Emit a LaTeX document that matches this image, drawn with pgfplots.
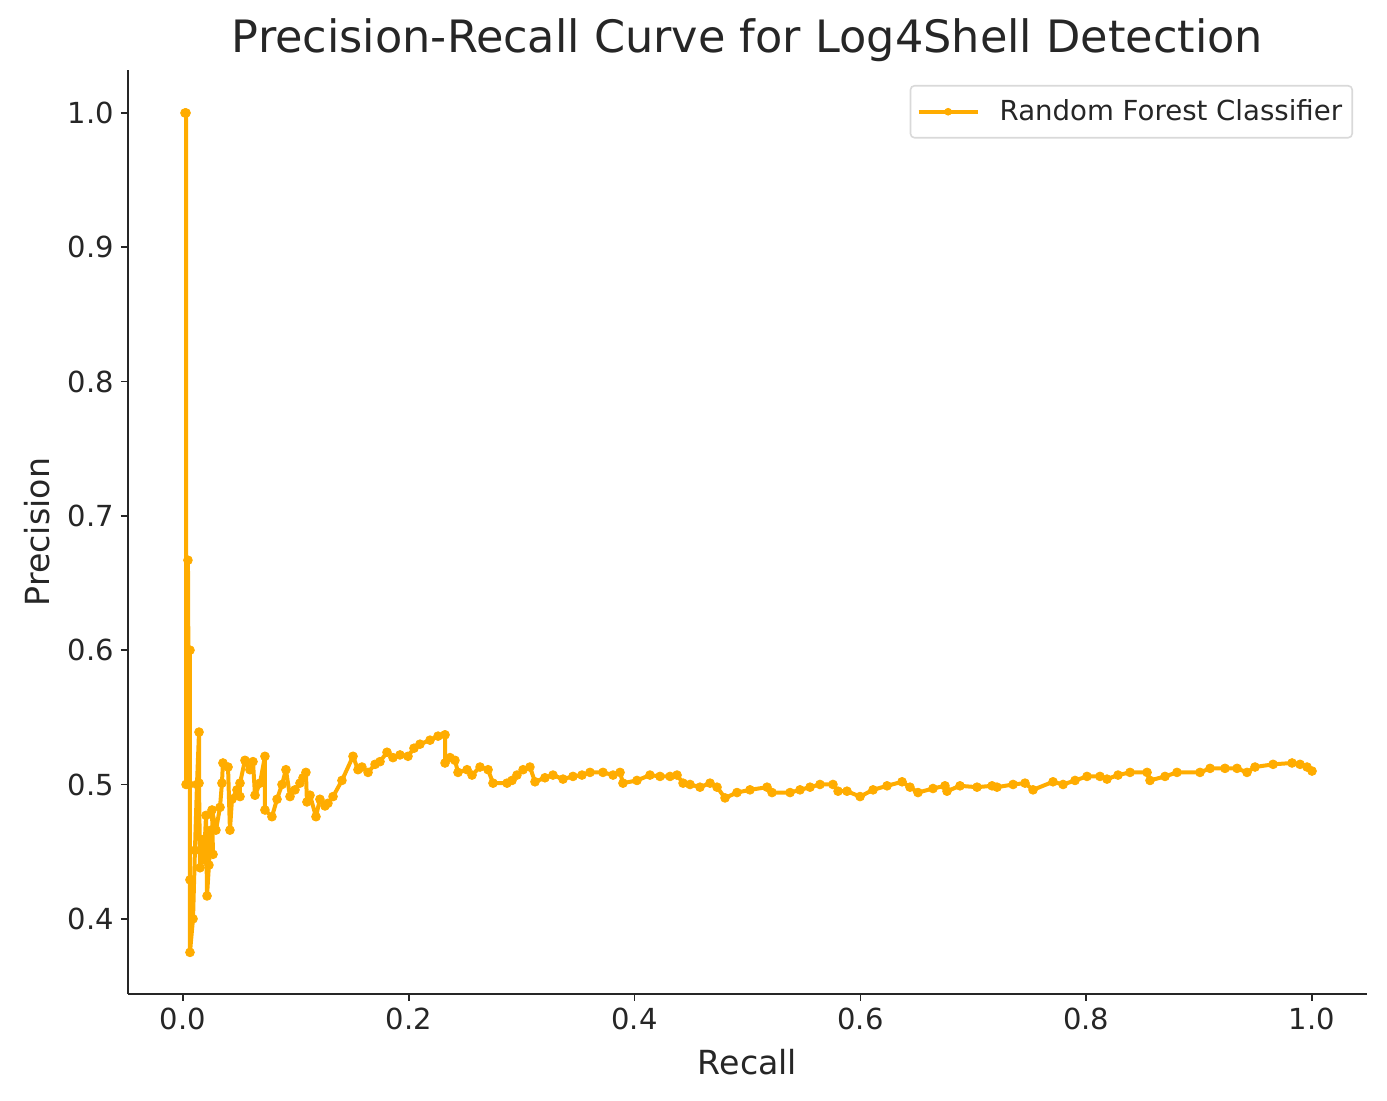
\documentclass[border=0pt]{standalone}
\usepackage{fontspec}
\setmainfont{DejaVu Sans}
\usepackage{pgfplots}
\pgfplotsset{compat=1.18}
\definecolor{curve}{RGB}{255,172,0}
\definecolor{txt}{RGB}{38,38,38}

\begin{document}
\begin{tikzpicture}
\begin{axis}[
    scale only axis,
    width=619.5pt, height=462pt,
    xmin=-0.0487, xmax=1.0487,
    ymin=0.344, ymax=1.032,
    axis lines*=left,
    axis line style={-, line width=1pt, black!85},
    tick align=outside,
    major tick length=3.5pt,
    tick style={line width=0.8pt, black!85},
    xtick={0,0.2,0.4,0.6,0.8,1.0},
    ytick={0.4,0.5,0.6,0.7,0.8,0.9,1.0},
    /pgf/number format/.cd, fixed, fixed zerofill, precision=1, assume math mode=true,
    /pgfplots/.cd,
    tick label style={font=\fontsize{14.5}{17}\selectfont, text=txt},
    label style={font=\fontsize{16.6}{19}\selectfont, text=txt},
    every axis title shift=0pt,
    title style={font=\fontsize{22.3}{26}\selectfont, text=txt,
                 at={(axis description cs:0.5,1.0325)}, anchor=center},
    title={Precision-Recall Curve for Log4Shell Detection},
    xlabel={Recall},
    ylabel={Precision},
    xlabel style={at={(axis description cs:0.5,-0.0736)}, anchor=center},
    ylabel style={at={(axis description cs:-0.0734,0.5)}, anchor=center},
    legend style={at={(axis description cs:0.9887,0.9838)}, anchor=north east,
                  draw=black!15, line width=0.8pt, rounded corners=2pt,
                  font=\fontsize{13.8}{16}\selectfont, text=txt,
                  inner xsep=3pt, inner ysep=5pt},
    legend cell align=left,
    legend image code/.code={
        \draw[mark repeat=2, mark phase=2, mark size=1.7pt]
            plot coordinates {(0cm,0cm) (0.52cm,0cm) (1.04cm,0cm)};
        \path (0cm,0cm) (1.04cm+8pt,0cm);
    },
]
\coordinate (sw) at (rel axis cs:0,0);
\coordinate (ne) at (rel axis cs:1,1);

\addplot[color=curve, line width=2pt, line join=round, mark=*, mark size=2.2pt,
         mark options={fill=curve, draw=curve, line width=0.4pt}]
coordinates {
(0.0018,1.000) (0.0027,1.000) (0.0027,0.500) (0.0044,0.667) (0.0053,0.500)
(0.0062,0.600) (0.0062,0.429) (0.0062,0.375) (0.0089,0.400) (0.0106,0.451)
(0.0124,0.500) (0.0142,0.539) (0.0142,0.501) (0.0151,0.438) (0.0168,0.459)
(0.0186,0.444) (0.0204,0.477) (0.0213,0.417) (0.0230,0.440) (0.0248,0.466)
(0.0266,0.448) (0.0257,0.481) (0.0292,0.466) (0.0328,0.483) (0.0345,0.501)
(0.0354,0.516) (0.0399,0.513) (0.0416,0.466) (0.0434,0.489) (0.0478,0.496)
(0.0505,0.491) (0.0505,0.501) (0.0549,0.518) (0.0593,0.511) (0.0620,0.517)
(0.0638,0.492) (0.0682,0.501) (0.0726,0.521) (0.0726,0.481) (0.0788,0.476)
(0.0833,0.489) (0.0877,0.500) (0.0912,0.511) (0.0948,0.491) (0.0992,0.496)
(0.1036,0.501) (0.1063,0.505) (0.1089,0.509) (0.1098,0.487) (0.1125,0.492)
(0.1178,0.476) (0.1213,0.489) (0.1258,0.484) (0.1284,0.486) (0.1329,0.491)
(0.1408,0.503) (0.1506,0.521) (0.1550,0.511) (0.1585,0.513) (0.1639,0.509)
(0.1701,0.515) (0.1745,0.517) (0.1807,0.524) (0.1860,0.520) (0.1922,0.522)
(0.1993,0.521) (0.2046,0.527) (0.2099,0.530) (0.2188,0.533) (0.2259,0.536)
(0.2321,0.537) (0.2321,0.516) (0.2365,0.520) (0.2409,0.518) (0.2436,0.509)
(0.2516,0.511) (0.2560,0.507) (0.2631,0.513) (0.2702,0.511) (0.2746,0.501)
(0.2870,0.501) (0.2914,0.503) (0.2958,0.507) (0.3012,0.511) (0.3073,0.513)
(0.3118,0.502) (0.3206,0.505) (0.3277,0.507) (0.3366,0.504) (0.3454,0.506)
(0.3534,0.507) (0.3605,0.509) (0.3720,0.509) (0.3809,0.507) (0.3871,0.509)
(0.3897,0.501) (0.4021,0.503) (0.4136,0.507) (0.4225,0.506) (0.4314,0.506)
(0.4376,0.507) (0.4429,0.501) (0.4491,0.500) (0.4579,0.498) (0.4668,0.501)
(0.4730,0.498) (0.4801,0.490) (0.4907,0.494) (0.5022,0.496) (0.5173,0.498)
(0.5217,0.494) (0.5377,0.494) (0.5465,0.496) (0.5554,0.498) (0.5642,0.500)
(0.5757,0.500) (0.5802,0.495) (0.5881,0.495) (0.5997,0.491) (0.6112,0.496)
(0.6236,0.499) (0.6369,0.502) (0.6439,0.498) (0.6510,0.494) (0.6643,0.497)
(0.6749,0.499) (0.6767,0.495) (0.6882,0.499) (0.7033,0.498) (0.7166,0.499)
(0.7210,0.498) (0.7352,0.500) (0.7458,0.501) (0.7529,0.496) (0.7706,0.502)
(0.7795,0.500) (0.7901,0.503) (0.8007,0.506) (0.8122,0.506) (0.8184,0.504)
(0.8282,0.507) (0.8388,0.509) (0.8539,0.509) (0.8565,0.503) (0.8698,0.506)
(0.8804,0.509) (0.9008,0.509) (0.9097,0.512) (0.9229,0.512) (0.9336,0.512)
(0.9424,0.509) (0.9495,0.513) (0.9655,0.515) (0.9823,0.516) (0.9894,0.515)
(0.9956,0.513) (1.0000,0.510)
};
\addlegendentry{Random Forest Classifier}
\end{axis}
\pgfresetboundingbox
\path[use as bounding box] ([xshift=-64pt,yshift=-53.5pt]sw) rectangle ([xshift=10pt,yshift=35pt]ne);
\end{tikzpicture}
\end{document}
